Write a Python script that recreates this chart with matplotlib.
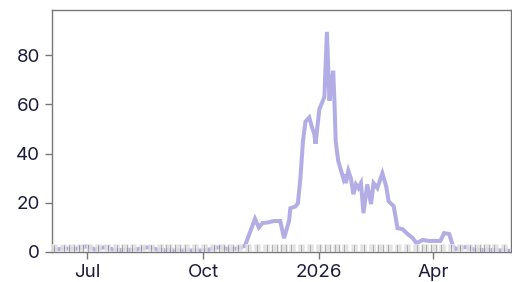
import numpy as np
import pandas as pd
import matplotlib
matplotlib.use("Agg")
import matplotlib.pyplot as plt
import matplotlib.dates as mdates

# line series
dates = ["2025-06-05", "2025-06-13", "2025-06-21", "2025-07-01", "2025-07-07",
         "2025-07-15", "2025-07-23", "2025-07-31", "2025-08-08", "2025-08-19",
         "2025-08-27", "2025-09-08", "2025-09-20", "2025-10-02", "2025-10-14",
         "2025-10-22", "2025-10-28", "2025-11-03", "2025-11-07", "2025-11-11",
         "2025-11-14", "2025-11-17", "2025-11-21", "2025-11-26", "2025-12-01",
         "2025-12-04", "2025-12-08", "2025-12-09", "2025-12-13", "2025-12-15",
         "2025-12-17", "2025-12-19", "2025-12-21", "2025-12-24", "2025-12-26",
         "2025-12-28", "2025-12-29", "2026-01-01", "2026-01-05", "2026-01-07",
         "2026-01-09", "2026-01-10", "2026-01-12", "2026-01-13",
         "2026-01-14", "2026-01-16", "2026-01-20", "2026-01-21", "2026-01-22",
         "2026-01-24", "2026-01-26", "2026-01-28", "2026-01-30", "2026-02-01",
         "2026-02-03", "2026-02-05", "2026-02-08", "2026-02-11", "2026-02-13",
         "2026-02-16", "2026-02-20", "2026-02-23", "2026-02-25", "2026-03-01",
         "2026-03-04", "2026-03-08", "2026-03-12", "2026-03-16", "2026-03-19",
         "2026-03-24", "2026-03-29", "2026-04-03", "2026-04-07", "2026-04-10",
         "2026-04-14", "2026-04-17", "2026-04-19", "2026-04-27", "2026-05-05",
         "2026-05-16", "2026-05-31"]
values = [1.0, 1.5, 1.2, 2.4, 1.0,
          2.0, 0.8, 0.8, 1.0, 2.0,
          0.8, 0.6, 0.6, 0.6, 2.0,
          1.0, 1.5, 2.5, 8.0, 13.5,
          10.0, 11.8, 12.0, 12.6, 12.6,
          5.6, 12.6, 17.8, 18.5, 19.8,
          30.0, 45.0, 53.0, 54.7, 51.0,
          48.0, 44.0, 58.0, 63.0, 89.5,
          61.5, 65.6, 73.7, 61.0,
          45.0, 37.0, 30.0, 31.6, 28.0,
          33.0, 30.0, 23.5, 27.5, 26.0,
          28.0, 15.8, 27.5, 19.5, 28.0,
          26.0, 32.0, 26.7, 20.6, 18.6,
          9.7, 9.3, 7.3, 5.7, 3.6,
          4.9, 4.5, 4.5, 4.5, 7.7,
          7.3, 2.4, 1.2, 2.0, 0.8,
          0.8, 0.5]

# gray marker bars along the baseline (weekdays)
bar_start = "2025-06-02"
bar_end = "2026-06-02"
bar_height = 3.2

xmin = "2025-06-03"
xmax = "2026-06-02"
ymax = 98.4

plt.rcParams['font.family'] = ['Inter', 'DejaVu Sans']

fig = plt.figure(figsize=(5.12, 2.82), dpi=100)
ax = fig.add_axes([52/512, 30/282, 459/512, 242/282])

x = pd.to_datetime(dates)
ax.plot(x, values, color="#b3ade6", lw=2.9, solid_joinstyle="miter", zorder=2)

bar_days = pd.bdate_range(bar_start, bar_end)
ax.bar(bar_days, [bar_height] * len(bar_days), width=1.0, align="edge",
       color="#8f8f8f", alpha=0.7, edgecolor="white", linewidth=0.5, zorder=3)

ax.set_xlim(pd.Timestamp(xmin), pd.Timestamp(xmax))
ax.set_ylim(0, ymax)
ax.set_yticks([0, 20, 40, 60, 80])

ticks = pd.to_datetime(["2025-07-01", "2025-10-01", "2026-01-01", "2026-04-01"])
ax.set_xticks(ticks)
ax.set_xticklabels(["Jul", "Oct", "2026", "Apr"])

for s in ax.spines.values():
    s.set_color("#777777")
    s.set_linewidth(1.0)
ax.tick_params(colors="#777777", labelcolor="#1c1b3a", labelsize=13.5,
               length=5, width=1.0)

fig.savefig("out.png", dpi=100)
